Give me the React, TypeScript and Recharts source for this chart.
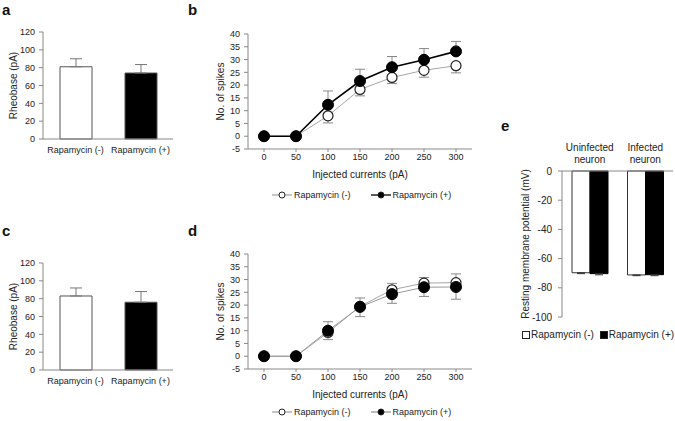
import React from 'react';
import { BarChart, Bar, LineChart, Line, XAxis, YAxis, ErrorBar, Label, Cell } from 'recharts';

const FONT = '"Liberation Sans", Arial, sans-serif';
const TEXT = '#222';
const AXIS = '#888';

// panels a / c
const groups = ['Rapamycin (-)', 'Rapamycin (+)'];
const rheobaseA = [81, 74];
const rheobaseAErr = [9, 9.5];
const rheobaseC = [83, 76];
const rheobaseCErr = [9, 12];
const rheobaseTicks = [0, 20, 40, 60, 80, 100, 120];

// panels b / d
const currents = [0, 50, 100, 150, 200, 250, 300];
const spikeTicks = [-5, 0, 5, 10, 15, 20, 25, 30, 35, 40];
const bMinus = [0, 0, 8, 18.3, 23, 25.8, 27.6];
const bMinusLo = [0, 0, 2.8, 2.5, 2.4, 2.7, 2.8];
const bMinusHi = [0, 0, 0, 0, 0, 0, 0];
const bPlus = [0, 0, 12.3, 21.6, 27, 29.9, 33.2];
const bPlusLo = [0, 0, 0, 0, 0, 0, 0];
const bPlusHi = [0, 0, 5.4, 4.6, 4.2, 4.4, 3.9];
const dMinus = [0, 0, 9.3, 19.5, 26, 28.6, 28.8];
const dMinusLo = [0, 0, 2.8, 0, 0, 0, 0];
const dMinusHi = [0, 0, 0, 3.3, 2.5, 2.2, 3.4];
const dPlus = [0, 0, 10, 19.3, 24.3, 27, 27.1];
const dPlusLo = [0, 0, 0, 3.8, 3.6, 3.6, 4.8];
const dPlusHi = [0, 0, 3.5, 0, 0, 0, 0];

// panel e
const neuronTypes = ['Uninfected neuron', 'Infected neuron'];
const rmpMinus = [-69.7, -71.2];
const rmpMinusErr = [0.6, 0.5];
const rmpPlus = [-70.3, -71];
const rmpPlusErr = [0.8, 0.7];
const rmpTicks = [-100, -80, -60, -40, -20, 0];

const tickStyle = { fontSize: 9, fill: TEXT, fontFamily: FONT };
const titleStyle = { fontSize: 10, fill: TEXT, fontFamily: FONT, textAnchor: 'middle' as const };

function PanelLetter({ ch, left, top }: { ch: string; left: number; top: number }) {
  return (
    <div style={{ position: 'absolute', left, top, fontSize: 15, lineHeight: '15px', fontWeight: 'bold', fontFamily: FONT, color: '#111' }}>
      {ch}
    </div>
  );
}

function RheobasePanel({ values, errs, top }: { values: number[]; errs: number[]; top: number }) {
  const data = groups.map((g, i) => ({ group: g, value: values[i], err: [0, errs[i]] }));
  return (
    <div style={{ position: 'absolute', left: 0, top, width: 200, height: 170 }}>
      <BarChart width={200} height={170} data={data} margin={{ top: 32, right: 27, left: 0, bottom: 11 }} barSize={32}>
        <XAxis dataKey="group" height={20} interval={0} tickLine={false} axisLine={{ stroke: AXIS }} tick={tickStyle} />
        <YAxis width={43} domain={[0, 120]} ticks={rheobaseTicks} interval={0} tickSize={4} tickMargin={4}
          axisLine={{ stroke: AXIS }} tickLine={{ stroke: AXIS }} tick={tickStyle}>
          <Label value="Rheobase (pA)" angle={-90} position="insideLeft" offset={13} style={titleStyle} />
        </YAxis>
        <Bar dataKey="value" stroke="#555" strokeWidth={1} isAnimationActive={false}>
          {data.map((d, i) => <Cell key={d.group} fill={i === 0 ? '#fff' : '#000'} />)}
          <ErrorBar dataKey="err" width={6} stroke="#777" strokeWidth={1} />
        </Bar>
      </BarChart>
    </div>
  );
}

function SpikeLegend({ top, plusLine }: { top: number; plusLine: string }) {
  const item = (fill: string, line: string, label: string, gap: number) => (
    <span style={{ display: 'inline-flex', alignItems: 'center', marginRight: gap }}>
      <svg width={20} height={8} style={{ marginRight: 2 }}>
        <line x1={0} y1={4} x2={20} y2={4} stroke={line} strokeWidth={1.3} />
        <circle cx={10} cy={4} r={3} fill={fill} stroke="#222" strokeWidth={1} />
      </svg>
      {label}
    </span>
  );
  return (
    <div style={{ position: 'absolute', left: 82, top, fontSize: 9, lineHeight: '12px', fontFamily: FONT, color: TEXT, whiteSpace: 'nowrap', display: 'flex' }}>
      {item('#fff', '#a6a6a6', groups[0], 20)}
      {item('#000', plusLine, groups[1], 0)}
    </div>
  );
}

function SpikesPanel(props: {
  top: number; legendTop: number;
  minus: number[]; minusLo: number[]; minusHi: number[];
  plus: number[]; plusLo: number[]; plusHi: number[];
  plusColor: string; plusWidth: number;
}) {
  const { top, legendTop, minus, minusLo, minusHi, plus, plusLo, plusHi, plusColor, plusWidth } = props;
  const data = currents.map((c, i) => ({
    current: c,
    minus: minus[i], minusErr: [minusLo[i], minusHi[i]],
    plus: plus[i], plusErr: [plusLo[i], plusHi[i]],
  }));
  return (
    <div style={{ position: 'absolute', left: 190, top, width: 290, height: 210 }}>
      <LineChart width={290} height={210} data={data} margin={{ top: 34, right: 8, left: 0, bottom: 31 }}>
        <XAxis dataKey="current" type="number" domain={[0, 300]} ticks={currents} interval={0}
          padding={{ left: 16, right: 16 }} height={30} tickSize={3} tickMargin={2}
          axisLine={{ stroke: AXIS }} tickLine={{ stroke: AXIS }} tick={tickStyle}>
          <Label value="Injected currents (pA)" position="insideBottom" offset={1} style={titleStyle} />
        </XAxis>
        <YAxis width={58} domain={[-5, 40]} ticks={spikeTicks} interval={0} tickSize={4} tickMargin={4}
          axisLine={{ stroke: AXIS }} tickLine={{ stroke: AXIS }} tick={tickStyle}>
          <Label value="No. of spikes" angle={-90} position="insideLeft" offset={30} style={titleStyle} />
        </YAxis>
        <Line dataKey="minus" stroke="#a6a6a6" strokeWidth={1} isAnimationActive={false}
          dot={{ r: 5, fill: '#fff', stroke: '#222', strokeWidth: 1.2 }} activeDot={false}>
          <ErrorBar dataKey="minusErr" width={5} stroke="#888" strokeWidth={1} />
        </Line>
        <Line dataKey="plus" stroke={plusColor} strokeWidth={plusWidth} isAnimationActive={false}
          dot={{ r: 5.5, fill: '#000', stroke: '#000', strokeWidth: 1 }} activeDot={false}>
          <ErrorBar dataKey="plusErr" width={5} stroke="#888" strokeWidth={1} />
        </Line>
      </LineChart>
      <SpikeLegend top={legendTop} plusLine={plusColor} />
    </div>
  );
}

const NeuronTick = (p: any) => {
  const [l1, l2] = String(p.payload.value).split(' ');
  return (
    <text x={p.x} y={p.y} textAnchor="middle" fontSize={10} fill={TEXT} fontFamily={FONT}>
      <tspan x={p.x} dy={-12}>{l1}</tspan>
      <tspan x={p.x} dy={12}>{l2}</tspan>
    </text>
  );
};

function RmpPanel() {
  const data = neuronTypes.map((n, i) => ({
    type: n,
    minus: rmpMinus[i], minusErr: [rmpMinusErr[i], 0],
    plus: rmpPlus[i], plusErr: [rmpPlusErr[i], 0],
  }));
  const sq = (fill: string) => (
    <span style={{ display: 'inline-block', width: 6, height: 6, border: '1px solid #222', background: fill, marginRight: 1 }} />
  );
  return (
    <div style={{ position: 'absolute', left: 470, top: 100, width: 205, height: 250 }}>
      <BarChart width={205} height={250} data={data} margin={{ top: 41, right: 2, left: 0, bottom: 33 }} barSize={18} barGap={0}>
        <XAxis dataKey="type" orientation="top" height={30} interval={0} tickLine={false}
          axisLine={{ stroke: AXIS }} tick={<NeuronTick />} />
        <YAxis width={92} domain={[-100, 0]} ticks={rmpTicks} interval={0} tickSize={4} tickMargin={6}
          axisLine={{ stroke: AXIS }} tickLine={{ stroke: AXIS }} tick={{ ...tickStyle, fontSize: 10 }}>
          <Label value="Resting membrane potential (mV)" angle={-90} position="insideLeft" offset={55} style={titleStyle} />
        </YAxis>
        <Bar dataKey="minus" fill="#fff" stroke="#333" strokeWidth={1} isAnimationActive={false}>
          <ErrorBar dataKey="minusErr" width={4} stroke="#333" strokeWidth={1} />
        </Bar>
        <Bar dataKey="plus" fill="#000" stroke="#000" strokeWidth={1} isAnimationActive={false}>
          <ErrorBar dataKey="plusErr" width={4} stroke="#333" strokeWidth={1} />
        </Bar>
      </BarChart>
      <div style={{ position: 'absolute', left: 52, top: 229, fontSize: 10, lineHeight: '12px', fontFamily: FONT, color: TEXT, whiteSpace: 'nowrap', display: 'flex', alignItems: 'center' }}>
        {sq('#fff')}<span>{groups[0]}</span>
        <span style={{ width: 6 }} />
        {sq('#000')}<span>{groups[1]}</span>
      </div>
    </div>
  );
}

export default function App() {
  return (
    <div style={{ position: 'absolute', left: 0, top: 0, width: 675, height: 421, overflow: 'hidden', background: '#fff', fontFamily: FONT }}>
      <RheobasePanel values={rheobaseA} errs={rheobaseAErr} top={0} />
      <RheobasePanel values={rheobaseC} errs={rheobaseCErr} top={231} />
      <SpikesPanel top={0} legendTop={189} minus={bMinus} minusLo={bMinusLo} minusHi={bMinusHi}
        plus={bPlus} plusLo={bPlusLo} plusHi={bPlusHi} plusColor="#000" plusWidth={1.6} />
      <SpikesPanel top={220} legendTop={186} minus={dMinus} minusLo={dMinusLo} minusHi={dMinusHi}
        plus={dPlus} plusLo={dPlusLo} plusHi={dPlusHi} plusColor="#999" plusWidth={1} />
      <RmpPanel />
      <PanelLetter ch="a" left={2} top={2} />
      <PanelLetter ch="b" left={188} top={2} />
      <PanelLetter ch="c" left={2} top={223} />
      <PanelLetter ch="d" left={188} top={223} />
      <PanelLetter ch="e" left={501} top={118} />
    </div>
  );
}
